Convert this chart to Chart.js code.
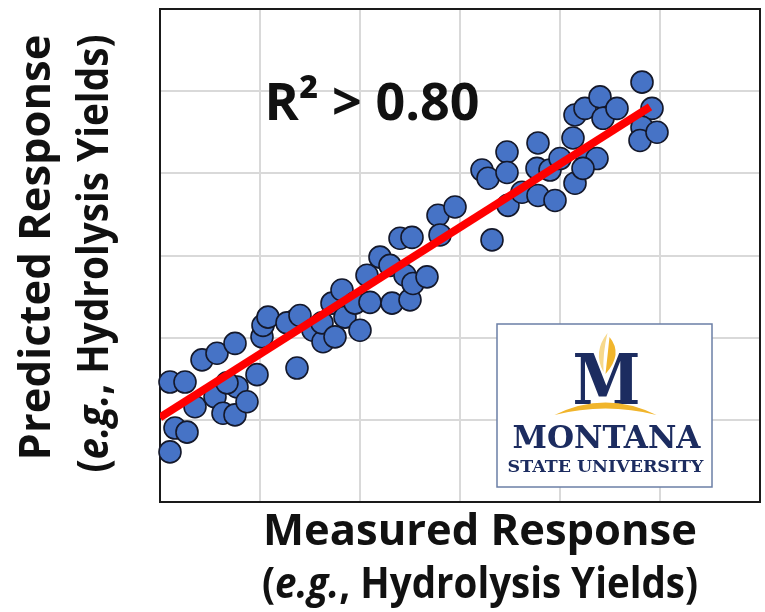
<!DOCTYPE html>
<html>
<head>
<meta charset="utf-8">
<script src="https://cdn.jsdelivr.net/npm/chart.js@4.4.1/dist/chart.umd.min.js"></script>
<style>
  html, body { margin: 0; padding: 0; background: #fff; }
  #wrap { width: 765px; height: 612px; }
</style>
</head>
<body>
<div id="wrap"><canvas id="fitChart" width="765" height="612"></canvas></div>
<script>
// valeurs (unités de grille 0..6)
const measured = [
  0.10, 0.15, 0.27, 0.10, 0.25, 0.42, 0.57, 0.75, 0.35, 0.55,
  0.63, 0.75, 0.77, 0.87, 0.97, 0.67, 1.02, 1.03, 1.08, 1.35,
  1.37, 1.27, 1.40, 1.53, 1.63, 1.62, 1.75, 1.72, 1.82, 1.85,
  2.00, 1.95, 2.10, 2.07, 2.20, 2.30, 2.32, 2.45, 2.50, 2.53,
  2.67, 2.40, 2.52, 2.78, 2.95, 2.80, 3.32, 3.22, 3.28, 3.47,
  3.47, 3.48, 3.62, 3.78, 3.77, 3.78, 3.90, 3.95, 4.00, 4.13,
  4.15, 4.27, 4.37, 4.23, 4.15, 4.25, 4.40, 4.43, 4.57, 4.82,
  4.92, 4.82, 4.80, 4.97
];
const predicted = [
  0.61, 0.90, 0.85, 1.46, 1.46, 1.73, 1.81, 1.93, 1.16, 1.28,
  1.08, 1.06, 1.40, 1.22, 1.55, 1.45, 2.01, 2.15, 2.25, 2.21,
  1.63, 2.18, 2.27, 2.09, 1.95, 2.18, 2.01, 2.42, 2.58, 2.25,
  2.09, 2.42, 2.43, 2.76, 2.98, 2.88, 2.42, 2.76, 2.46, 2.66,
  2.74, 3.21, 3.22, 3.49, 3.59, 3.25, 3.19, 4.04, 3.94, 4.26,
  4.01, 3.61, 3.77, 4.37, 4.06, 3.73, 4.04, 3.67, 4.18, 4.43,
  3.88, 4.20, 4.18, 4.06, 4.71, 4.79, 4.93, 4.67, 4.79, 5.11,
  4.79, 4.56, 4.40, 4.50
];
// droite de régression
const fitX = [0, 4.9];
const fitY = [1.03, 4.81];
const axisMin = 0;
const axisMax = 6;

const xTitle = 'Measured Response';
const yTitle = 'Predicted Response';
const subTitle = [['(', 'normal'], ['e.g.', 'italic'], [', Hydrolysis Yields)', 'normal']];
const r2Label = 'R² > 0.80';

const NAVY = '#1c2c60';
const GOLD = '#f1b52c';
const LIGHT_GOLD = '#f7d98c';

// taille de police pour qu'un texte tienne dans une largeur donnée
function fitFont(ctx, text, family, weight, width) {
  ctx.font = weight + ' 40px ' + family;
  const w = ctx.measureText(text).width;
  return 40 * width / w;
}

function mixedWidth(ctx, parts, size) {
  let total = 0;
  parts.forEach(p => {
    ctx.font = p[1] + ' bold ' + size + 'px "Open Sans"';
    total += ctx.measureText(p[0]).width;
  });
  return total;
}

// texte mixte (italique / droit), resserré pour tenir dans "width"
function drawMixed(ctx, parts, cx, cy, size, width) {
  const total = mixedWidth(ctx, parts, size);
  ctx.save();
  ctx.translate(cx, cy);
  ctx.scale(width / total, 1);
  let x = -total / 2;
  ctx.textAlign = 'left';
  parts.forEach(p => {
    ctx.font = p[1] + ' bold ' + size + 'px "Open Sans"';
    ctx.fillText(p[0], x, 0);
    x += ctx.measureText(p[0]).width;
  });
  ctx.restore();
}

const framePlugin = {
  id: 'frame',
  beforeDatasetsDraw(chart) {
    const { ctx, chartArea: a } = chart;
    ctx.save();
    ctx.strokeStyle = '#1a1a1a';
    ctx.lineWidth = 2;
    ctx.strokeRect(a.left, a.top, a.right - a.left, a.bottom - a.top);
    ctx.restore();
  }
};

const textPlugin = {
  id: 'texts',
  afterDraw(chart) {
    const { ctx, chartArea: a } = chart;
    ctx.save();
    ctx.fillStyle = '#111';
    ctx.textBaseline = 'alphabetic';
    const size = fitFont(ctx, xTitle, '"Open Sans"', 'bold', 434);

    // titre axe x
    const cx = a.left + 320;
    ctx.textAlign = 'center';
    ctx.font = 'bold ' + size + 'px "Open Sans"';
    ctx.fillText(xTitle, cx, a.bottom + 43);
    drawMixed(ctx, subTitle, cx, a.bottom + 96, size * 0.97, 436);

    // titre axe y
    ctx.save();
    ctx.translate(0, (a.top + a.bottom) / 2);
    ctx.rotate(-Math.PI / 2);
    ctx.textAlign = 'center';
    ctx.font = 'bold ' + size + 'px "Open Sans"';
    ctx.fillText(yTitle, 8, 50);
    drawMixed(ctx, subTitle, 2, 108, size * 0.97, 438);
    ctx.restore();

    // R²
    const rs = fitFont(ctx, r2Label, '"Open Sans"', 'bold', 215);
    ctx.font = 'bold ' + rs + 'px "Open Sans"';
    ctx.textAlign = 'center';
    ctx.fillText(r2Label, a.left + 212, a.top + 111);
    ctx.restore();
  }
};

const logoPlugin = {
  id: 'logo',
  afterDatasetsDraw(chart) {
    const { ctx, chartArea: a } = chart;
    const bx = a.right - 263, by = a.bottom - 178, bw = 215, bh = 163;
    const mid = bx + bw / 2;
    ctx.save();
    ctx.fillStyle = '#fff';
    ctx.fillRect(bx, by, bw, bh);
    ctx.strokeStyle = '#6b7fa6';
    ctx.lineWidth = 1.5;
    ctx.strokeRect(bx, by, bw, bh);

    // flamme
    const fx = mid + 2;
    ctx.fillStyle = LIGHT_GOLD;
    ctx.beginPath();
    ctx.moveTo(fx + 1, by + 9);
    ctx.quadraticCurveTo(fx - 14, by + 28, fx - 3, by + 48);
    ctx.quadraticCurveTo(fx - 4, by + 30, fx + 1, by + 9);
    ctx.fill();
    ctx.fillStyle = GOLD;
    ctx.beginPath();
    ctx.moveTo(fx + 3, by + 13);
    ctx.quadraticCurveTo(fx + 17, by + 30, fx - 1, by + 50);
    ctx.quadraticCurveTo(fx + 1, by + 32, fx + 3, by + 13);
    ctx.fill();

    // M
    ctx.fillStyle = NAVY;
    ctx.textAlign = 'center';
    ctx.textBaseline = 'alphabetic';
    ctx.save();
    ctx.translate(mid + 2, by + 80);
    ctx.font = 'bold 70px "DejaVu Serif"';
    const mw = ctx.measureText('M').width;
    ctx.scale(68 / mw, 1);
    ctx.fillText('M', 0, 0);
    ctx.restore();

    // arc doré
    ctx.fillStyle = GOLD;
    ctx.beginPath();
    ctx.moveTo(mid - 50, by + 91);
    ctx.quadraticCurveTo(mid + 1, by + 66, mid + 52, by + 91);
    ctx.quadraticCurveTo(mid + 1, by + 78, mid - 50, by + 91);
    ctx.fill();

    // texte
    ctx.fillStyle = NAVY;
    let s = fitFont(ctx, 'MONTANA', '"DejaVu Serif"', 'bold', 188);
    ctx.font = 'bold ' + s + 'px "DejaVu Serif"';
    ctx.fillText('MONTANA', mid + 2, by + 124);
    s = fitFont(ctx, 'STATE UNIVERSITY', '"DejaVu Serif"', 'bold', 196);
    ctx.font = 'bold ' + s + 'px "DejaVu Serif"';
    ctx.fillText('STATE UNIVERSITY', mid + 1, by + 148);
    ctx.restore();
  }
};

const points = measured.map((x, i) => ({ x: x, y: predicted[i] }));
const fitLine = fitX.map((x, i) => ({ x: x, y: fitY[i] }));

new Chart(document.getElementById('fitChart'), {
  type: 'scatter',
  data: {
    datasets: [
      {
        type: 'line',
        data: fitLine,
        borderColor: '#ff0000',
        borderWidth: 8,
        pointRadius: 0,
        fill: false,
        order: 0
      },
      {
        data: points,
        backgroundColor: '#4673c6',
        borderColor: '#14182a',
        borderWidth: 1.6,
        pointRadius: 11,
        clip: false,
        order: 1
      }
    ]
  },
  options: {
    responsive: false,
    animation: false,
    devicePixelRatio: 1,
    layout: { autoPadding: false, padding: { left: 160, top: 9, right: 5, bottom: 110 } },
    plugins: { legend: { display: false }, tooltip: { enabled: false } },
    scales: {
      x: {
        type: 'linear', min: axisMin, max: axisMax,
        ticks: { display: false, stepSize: 1 },
        grid: { color: '#d9d9d9', lineWidth: 2, drawTicks: false },
        border: { display: false }
      },
      y: {
        type: 'linear', min: axisMin, max: axisMax,
        ticks: { display: false, stepSize: 1 },
        grid: { color: '#d9d9d9', lineWidth: 2, drawTicks: false },
        border: { display: false }
      }
    }
  },
  plugins: [framePlugin, logoPlugin, textPlugin]
});
</script>
</body>
</html>
